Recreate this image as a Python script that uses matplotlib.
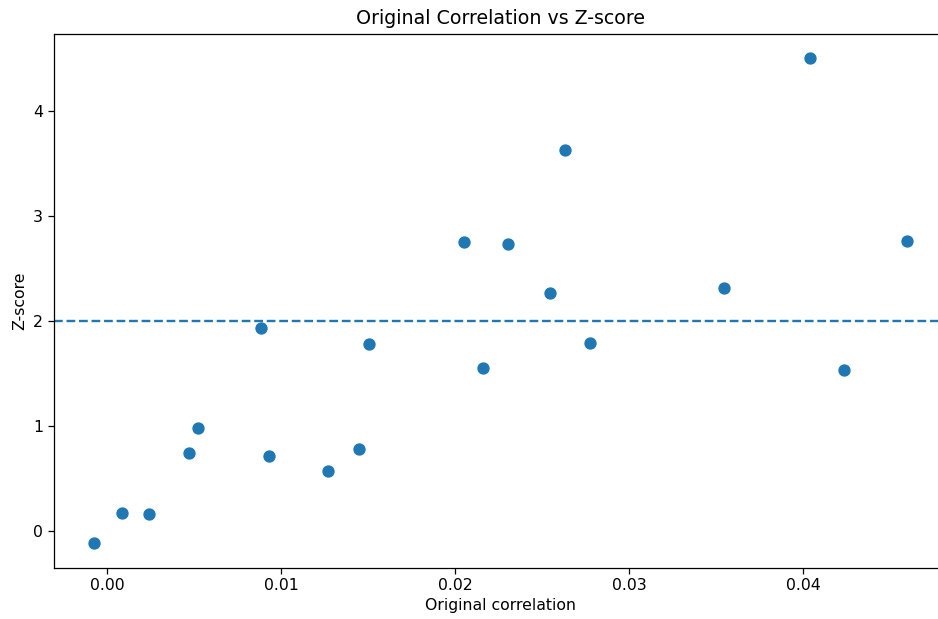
import matplotlib
matplotlib.use("Agg")
import matplotlib.pyplot as plt

# values
orig_corr = [-0.00075, 0.00086, 0.00241, 0.00471, 0.00523, 0.00885, 0.00931,
             0.0127, 0.01448, 0.01506, 0.02052, 0.02161, 0.02305, 0.02546,
             0.02632, 0.02776, 0.03546, 0.0404, 0.04236, 0.04598]
z_scores = [-0.12, 0.17, 0.16, 0.74, 0.98, 1.93, 0.71,
            0.57, 0.78, 1.78, 2.75, 1.55, 2.73, 2.26,
            3.63, 1.79, 2.31, 4.50, 1.53, 2.76]
threshold = 2

fig = plt.figure(figsize=(9.38, 6.19), dpi=100)
# axes runs a bit past the right edge like the cropped original
ax = fig.add_axes([53.5 / 938, 51.5 / 619, 894.5 / 938, 533.5 / 619])

ax.scatter(orig_corr, z_scores, s=62)
ax.axhline(threshold, linestyle='--', linewidth=1.7)

ax.set_xticks([0.0, 0.01, 0.02, 0.03, 0.04])
ax.tick_params(labelsize=11.3, length=4, width=0.9)
ax.set_xlabel("Original correlation", fontsize=11.3)
ax.set_ylabel("Z-score", fontsize=11.3)
ax.set_title("Original Correlation vs Z-score", fontsize=13.7, pad=7)
for sp in ax.spines.values():
    sp.set_linewidth(0.9)

fig.savefig("out.png", dpi=100)
